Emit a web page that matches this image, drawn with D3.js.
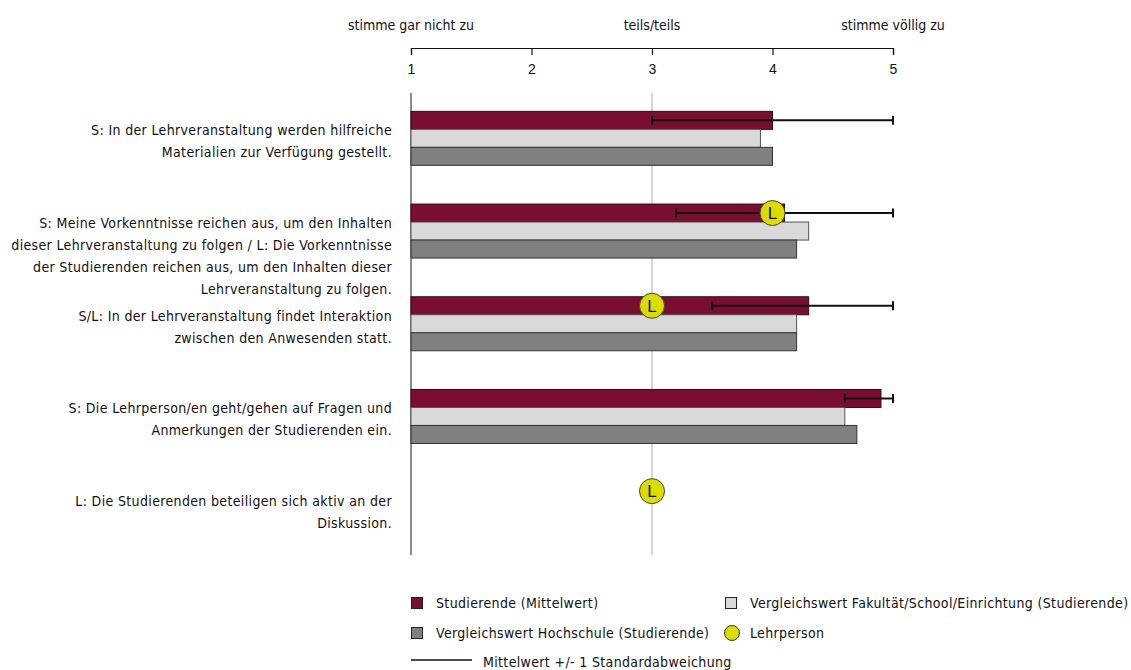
<!DOCTYPE html>
<html>
<head>
<meta charset="utf-8">
<script src="https://cdn.jsdelivr.net/npm/d3@7"></script>
<style>
  html, body { margin: 0; padding: 0; background: #fff; }
  svg text { font-family: "Liberation Sans Narrow", "Arial Narrow", "DejaVu Sans Condensed", sans-serif; font-stretch: condensed; fill: #111; }
</style>
</head>
<body>
<svg id="chart" width="1131" height="670"></svg>
<script>
// ---- data ----
const categories = [
  ["S: In der Lehrveranstaltung werden hilfreiche", "Materialien zur Verfügung gestellt."],
  ["S: Meine Vorkenntnisse reichen aus, um den Inhalten", "dieser Lehrveranstaltung zu folgen / L: Die Vorkenntnisse", "der Studierenden reichen aus, um den Inhalten dieser", "Lehrveranstaltung zu folgen."],
  ["S/L: In der Lehrveranstaltung findet Interaktion", "zwischen den Anwesenden statt."],
  ["S: Die Lehrperson/en geht/gehen auf Fragen und", "Anmerkungen der Studierenden ein."],
  ["L: Die Studierenden beteiligen sich aktiv an der", "Diskussion."]
];
const studierende = [4.0, 4.1, 4.3, 4.9, null];
const fakultaet   = [3.9, 4.3, 4.2, 4.6, null];
const hochschule  = [4.0, 4.2, 4.2, 4.7, null];
const lehrperson  = [null, 4.0, 3.0, null, 3.0];
const sdLow       = [3.0, 3.2, 3.5, 4.6, null];
const sdHigh      = [5.0, 5.0, 5.0, 5.0, null];
const tickValues  = [1, 2, 3, 4, 5];
const scaleLabels = [[1, "stimme gar nicht zu"], [3, "teils/teils"], [5, "stimme völlig zu"]];
const seriesNames = ["Studierende (Mittelwert)", "Vergleichswert Fakultät/School/Einrichtung (Studierende)", "Vergleichswert Hochschule (Studierende)"];
const lehrName = "Lehrperson";
const sdName = "Mittelwert +/-  1 Standardabweichung";

// ---- styles ----
const colors = ["#7a0e30", "#d9d9d9", "#808080"];
const strokes = ["#3a0515", "#555", "#333"];
const yellow = "#dcdc00";
const FS = 14;

const svg = d3.select("#chart");
const x = d3.scaleLinear().domain([1, 5]).range([411, 893]);
const idx = d3.range(categories.length);
const y = d3.scaleBand().domain(idx).range([92, 555.5]);
const barH = 18;
const sub = d3.scaleBand().domain([0, 1, 2]).range([0, barH * 3]);
const off = (y.step() - barH * 3) / 2;

// grid line at 3 and left axis line
svg.append("line").attr("x1", x(3)).attr("x2", x(3)).attr("y1", 93).attr("y2", 555)
  .attr("stroke", "#c8c8c8").attr("stroke-width", 1.5);
svg.append("line").attr("x1", x(1)).attr("x2", x(1)).attr("y1", 93).attr("y2", 555)
  .attr("stroke", "#666").attr("stroke-width", 1.5);

// top axis
const axis = d3.axisBottom(x).tickValues(tickValues).tickSize(7).tickPadding(9).tickFormat(d3.format("d"));
const ag = svg.append("g").attr("transform", "translate(0,48)").call(axis);
ag.selectAll("path, line").attr("stroke", "#111").attr("stroke-width", 1.2);
ag.selectAll("text").style("font-size", FS + "px").attr("fill", "#111")
  .style("font-family", '"Liberation Sans Narrow", "Arial Narrow", sans-serif');

// scale labels
svg.selectAll("text.scl").data(scaleLabels).join("text").attr("class", "scl")
  .attr("x", d => x(d[0])).attr("y", 25).attr("dy", "0.35em")
  .attr("text-anchor", "middle").style("font-size", FS + "px").text(d => d[1]);

// category labels
const lab = svg.selectAll("text.cat").data(categories).join("text").attr("class", "cat")
  .attr("text-anchor", "end").style("font-size", FS + "px")
  .attr("transform", (d, i) => `translate(392,${y(i) + y.step() / 2 - 8})`);
lab.selectAll("tspan").data(d => d).join("tspan")
  .attr("x", 0).attr("y", (d, j) => j * 22).attr("dy", "0.35em").style("letter-spacing", "0.35px").text(d => d);

// bars
const seriesVals = [studierende, fakultaet, hochschule];
seriesVals.forEach((vals, s) => {
  svg.append("g").selectAll("rect").data(idx.filter(i => vals[i] != null)).join("rect")
    .attr("x", x(1)).attr("width", i => x(vals[i]) - x(1))
    .attr("y", i => y(i) + off + sub(s)).attr("height", barH)
    .attr("fill", colors[s]).attr("stroke", strokes[s]).attr("stroke-width", 1);
});

// error bars
const eg = svg.append("g").attr("stroke", "#111").attr("stroke-width", 2);
idx.filter(i => sdLow[i] != null).forEach(i => {
  const cy = y(i) + off + sub(0) + barH / 2;
  eg.append("line").attr("x1", x(sdLow[i])).attr("x2", x(sdHigh[i])).attr("y1", cy).attr("y2", cy);
  [sdLow[i], sdHigh[i]].forEach(v => eg.append("line").attr("x1", x(v)).attr("x2", x(v)).attr("y1", cy - 4.5).attr("y2", cy + 4.5));
});

// Lehrperson markers
const lg = svg.append("g").selectAll("g").data(idx.filter(i => lehrperson[i] != null)).join("g")
  .attr("transform", i => `translate(${x(lehrperson[i])},${y(i) + off + sub(0) + barH / 2})`);
lg.append("circle").attr("r", 12.5).attr("fill", yellow).attr("stroke", "#444").attr("stroke-width", 1);
lg.append("text").attr("text-anchor", "middle").attr("dy", "0.36em").style("font-size", "17px")
  .style("font-family", '"Liberation Sans Narrow", "Arial Narrow", sans-serif').text("L");

// legend
const leg = svg.append("g").style("font-size", FS + "px");
const legItems = [
  {type: "rect", c: 0, x: 411, y: 603, t: seriesNames[0]},
  {type: "rect", c: 1, x: 725, y: 603, t: seriesNames[1]},
  {type: "rect", c: 2, x: 411, y: 633, t: seriesNames[2]},
  {type: "circle", x: 725, y: 633, t: lehrName}
];
legItems.forEach(d => {
  if (d.type === "rect") {
    leg.append("rect").attr("x", d.x + 0.5).attr("y", d.y - 5.5).attr("width", 11).attr("height", 11)
      .attr("fill", colors[d.c]).attr("stroke", "#222").attr("stroke-width", 1);
  } else {
    leg.append("circle").attr("cx", d.x + 7).attr("cy", d.y).attr("r", 7.5)
      .attr("fill", yellow).attr("stroke", "#333").attr("stroke-width", 1);
  }
  leg.append("text").attr("x", d.x + 25).attr("y", d.y).attr("dy", "0.35em").style("letter-spacing", "0.35px").text(d.t);
});
leg.append("line").attr("x1", 411).attr("x2", 472).attr("y1", 660).attr("y2", 660).attr("stroke", "#111").attr("stroke-width", 1.5);
leg.append("text").attr("x", 483).attr("y", 662).attr("dy", "0.35em").style("letter-spacing", "0.35px").text(sdName);
</script>
</body>
</html>
